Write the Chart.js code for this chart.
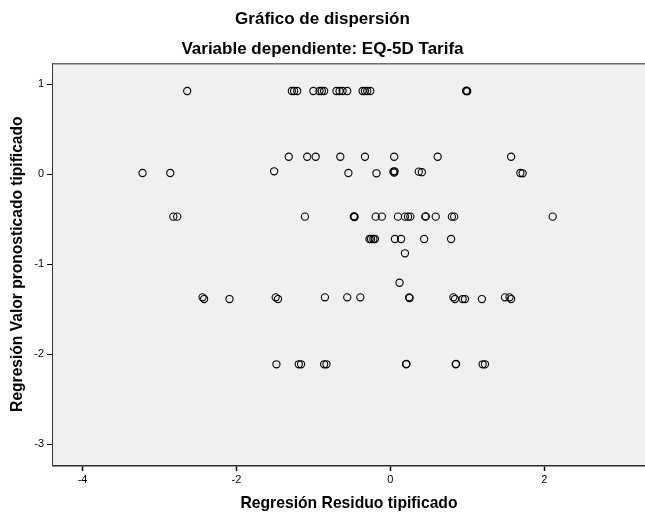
<!DOCTYPE html>
<html>
<head>
<meta charset="utf-8">
<script src="https://cdn.jsdelivr.net/npm/chart.js@4/dist/chart.umd.min.js"></script>
<style>
  html, body { margin: 0; padding: 0; background: #ffffff; }
  canvas { display: block; }
</style>
</head>
<body>
<canvas id="grafico" width="645" height="515"></canvas>
<script>
// Titles and axis labels
const tituloPrincipal = 'Gráfico de dispersión';
const subtitulo = 'Variable dependiente: EQ-5D Tarifa';
const tituloX = 'Regresión Residuo tipificado';
const tituloY = 'Regresión Valor pronosticado tipificado';

// Tick values shown on each axis
const ticksX = [-4, -2, 0, 2];
const ticksY = [1, 0, -1, -2, -3];

// Standardized residuals (x) and standardized predicted values (y), paired by index
const residuo = [
  // predicted ~ 0.92
  -2.64, -1.28, -1.25, -1.21, -1.00, -0.92, -0.89, -0.86, -0.70, -0.66, -0.62, -0.56,
  -0.36, -0.33, -0.30, -0.26, 0.985, 0.99, 1.00,
  // predicted ~ 0.19
  -1.32, -1.08, -0.97, -0.65, -0.33, 0.05, 0.615, 1.57,
  // predicted ~ 0.01
  -3.22, -2.86, -1.51, -0.545, -0.18, 0.04, 0.05, 0.055, 0.37, 0.41, 1.69, 1.72,
  // predicted ~ -0.47
  -2.82, -2.77, -1.11, -0.475, -0.47, -0.465, -0.19, -0.11, 0.10, 0.19, 0.23, 0.26,
  0.455, 0.46, 0.59, 0.80, 0.83, 2.11,
  // predicted ~ -0.72 / -0.88 / -1.21
  -0.27, -0.25, -0.22, -0.20, 0.06, 0.14, 0.44, 0.79,
  0.19,
  0.12,
  // predicted ~ -1.38
  -2.44, -2.42, -2.09, -1.49, -1.46, -0.85, -0.56, -0.39, 0.245, 0.25, 0.82, 0.84,
  0.94, 0.97, 1.19, 1.49, 1.55, 1.57,
  // predicted ~ -2.11
  -1.48, -1.19, -1.16, -0.86, -0.83, 0.205, 0.21, 0.85, 0.855, 1.20, 1.23
];
const pronosticado = [
  0.922, 0.922, 0.922, 0.922, 0.922, 0.922, 0.922, 0.922, 0.922, 0.922, 0.922, 0.922,
  0.922, 0.922, 0.922, 0.922, 0.922, 0.925, 0.92,
  0.192, 0.192, 0.192, 0.192, 0.192, 0.192, 0.192, 0.192,
  0.011, 0.011, 0.03, 0.011, 0.008, 0.026, 0.015, 0.03, 0.026, 0.02, 0.011, 0.008,
  -0.474, -0.474, -0.474, -0.474, -0.47, -0.478, -0.474, -0.474, -0.474, -0.474, -0.474, -0.474,
  -0.474, -0.47, -0.474, -0.474, -0.474, -0.474,
  -0.722, -0.722, -0.722, -0.722, -0.722, -0.722, -0.722, -0.722,
  -0.881,
  -1.208,
  -1.37, -1.389, -1.389, -1.37, -1.389, -1.37, -1.37, -1.37, -1.37, -1.378, -1.37, -1.389,
  -1.389, -1.389, -1.389, -1.37, -1.37, -1.389,
  -2.114, -2.114, -2.114, -2.114, -2.114, -2.114, -2.11, -2.114, -2.11, -2.114, -2.114
];

const puntos = residuo.map((x, i) => ({ x: x, y: pronosticado[i] }));

const fuente = '"Liberation Sans", Arial, "DejaVu Sans", sans-serif';

// Plot-area background and top frame line
const marcoPlugin = {
  id: 'marco',
  beforeDatasetsDraw(chart) {
    const { ctx, chartArea: a } = chart;
    ctx.save();
    ctx.fillStyle = '#f0f0f0';
    ctx.fillRect(a.left, a.top, a.right - a.left, a.bottom - a.top);
    ctx.strokeStyle = '#6e6e6e';
    ctx.lineWidth = 1.5;
    ctx.beginPath();
    ctx.moveTo(a.left, a.top + 0.5);
    ctx.lineTo(a.right, a.top + 0.5);
    ctx.stroke();
    ctx.restore();
  }
};

new Chart(document.getElementById('grafico'), {
  type: 'scatter',
  data: {
    datasets: [{
      data: puntos,
      pointStyle: 'circle',
      pointRadius: 3.6,
      pointBorderWidth: 1.1,
      pointBorderColor: '#000000',
      pointBackgroundColor: 'rgba(0,0,0,0)'
    }]
  },
  options: {
    responsive: false,
    animation: false,
    layout: { padding: 0, autoPadding: false },
    plugins: {
      legend: { display: false },
      tooltip: { enabled: false },
      title: {
        display: true,
        text: tituloPrincipal,
        color: '#000000',
        font: { family: fuente, size: 17, weight: 'bold', lineHeight: 1.2 },
        padding: { top: 9.3, bottom: 0 }
      },
      subtitle: {
        display: true,
        text: subtitulo,
        color: '#000000',
        font: { family: fuente, size: 17, weight: 'bold', lineHeight: 1.2 },
        padding: { top: 9.6, bottom: 3.6 }
      }
    },
    scales: {
      x: {
        type: 'linear',
        min: -4.384,
        max: 3.31,
        afterFit(scale) { scale.height = 50; scale.paddingLeft = 0; scale.paddingRight = 0; },
        afterBuildTicks(scale) { scale.ticks = ticksX.map(v => ({ value: v })); },
        ticks: { color: '#000000', padding: 2, font: { family: fuente, size: 11 } },
        grid: { drawOnChartArea: false, drawTicks: true, tickLength: 6, color: '#000000', tickWidth: 1.5 },
        border: { display: true, color: '#2b2b2b', width: 2.5 },
        title: {
          display: true, text: tituloX, color: '#000000',
          font: { family: fuente, size: 15.7, weight: 'bold', lineHeight: 1.2 },
          padding: { top: 0, bottom: 1.6 }
        }
      },
      y: {
        type: 'linear',
        min: -3.233,
        max: 1.23,
        afterFit(scale) { scale.width = 53; },
        afterBuildTicks(scale) { scale.ticks = ticksY.map(v => ({ value: v })); },
        ticks: { color: '#000000', padding: 3, font: { family: fuente, size: 11 } },
        grid: { drawOnChartArea: false, drawTicks: true, tickLength: 6, color: '#000000', tickWidth: 1 },
        border: { display: true, color: '#3a3a3a', width: 1.5 },
        title: {
          display: true, text: tituloY, color: '#000000',
          font: { family: fuente, size: 15.6, weight: 'bold', lineHeight: 1.2 },
          padding: { top: 8.6, bottom: 0 }
        }
      }
    }
  },
  plugins: [marcoPlugin]
});
</script>
</body>
</html>
